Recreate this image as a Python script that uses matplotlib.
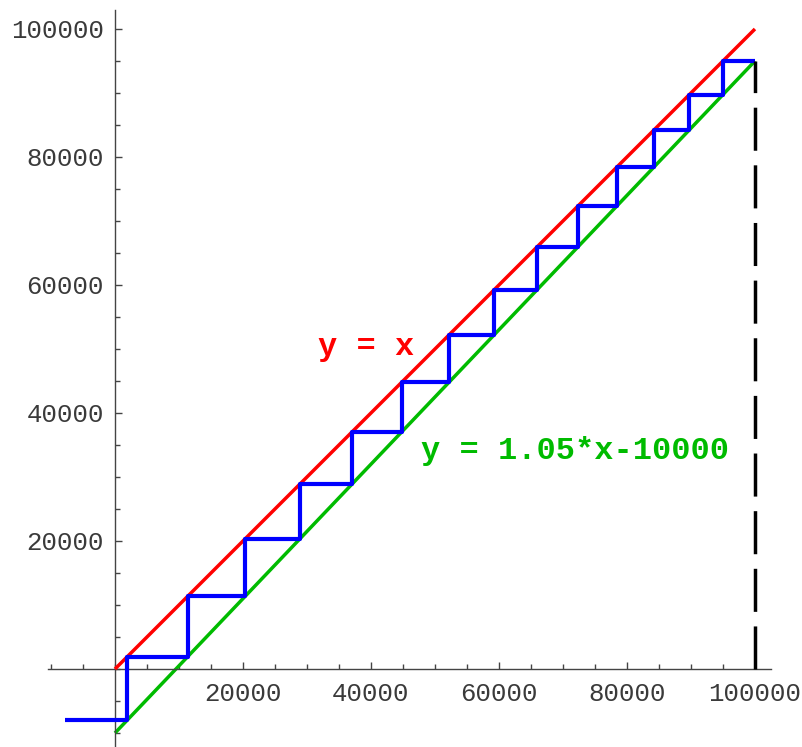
import matplotlib
matplotlib.use("Agg")
import matplotlib.pyplot as plt
from matplotlib.ticker import MultipleLocator, FixedLocator

# ---- data ----
red_x = [0, 100000]
red_y = [0, 100000]
green_x = [0, 100000]
green_y = [-10000, 95000]
# successive staircase levels
steps = [-8000, 1900, 11340, 20320, 28880, 37030, 44790, 52180, 59220,
         65920, 72310, 78390, 84180, 89690, 94950, 99950]
stair_start_x = -7800
dash_x = [100000, 100000]
dash_y = [0, 95000]
xticks_major = [20000, 40000, 60000, 80000, 100000]
yticks_major = [20000, 40000, 60000, 80000, 100000]
xtick_labels = ["20000", "40000", "60000", "80000", "100000"]
ytick_labels = ["20000", "40000", "60000", "80000", "100000"]

# staircase path built from the levels
sx = [stair_start_x]
sy = [steps[0]]
for i in range(len(steps) - 1):
    sx.append(steps[i + 1]); sy.append(steps[i])
    if i + 1 < len(steps) - 1:
        sx.append(steps[i + 1]); sy.append(steps[i + 1])

fig = plt.figure(figsize=(8.03, 7.47), dpi=100)
ax = fig.add_axes([0.0595, 0.0016, 0.9006, 0.9853])
ax.set_xlim(-10500, 102500)
ax.set_ylim(-12000, 103000)

ax.plot(green_x, green_y, color="#00bb00", lw=2.5, solid_capstyle="butt", zorder=2)
ax.plot(red_x, red_y, color="#ff0000", lw=2.5, solid_capstyle="butt", zorder=3)
ax.plot(sx, sy, color="#0000ff", lw=3.0, solid_capstyle="butt", zorder=4)
lw_d = 2.5
ax.plot(dash_x, dash_y, color="black", lw=lw_d, dashes=(31 / lw_d, 10.5 / lw_d),
        solid_capstyle="butt", dash_capstyle="butt", zorder=5)

ax.text(39300, 50300, "y = x", color="#ff0000", fontsize=23, fontweight="bold",
        family="Liberation Mono", ha="center", va="center")
ax.text(71900, 34000, "y = 1.05*x-10000", color="#00bb00", fontsize=23,
        fontweight="bold", family="Liberation Mono", ha="center", va="center")

for s in ["top", "right"]:
    ax.spines[s].set_visible(False)
ax.spines["left"].set_position(("data", 0))
ax.spines["bottom"].set_position(("data", 0))
for s in ["left", "bottom"]:
    ax.spines[s].set_color("#444444")
    ax.spines[s].set_linewidth(1.0)

ax.xaxis.set_major_locator(FixedLocator(xticks_major))
ax.yaxis.set_major_locator(FixedLocator(yticks_major))
ax.set_xticklabels(xtick_labels)
ax.set_yticklabels(ytick_labels)
ax.xaxis.set_minor_locator(MultipleLocator(5000))
ax.yaxis.set_minor_locator(MultipleLocator(5000))
ax.tick_params(which="both", direction="in", color="#444444", width=1.0)
ax.tick_params(which="major", length=5, labelsize=18.5, labelcolor="#3a3a3a")
ax.tick_params(which="minor", length=3.5)
ax.tick_params(axis="x", which="major", pad=9)
ax.tick_params(axis="y", which="major", pad=8)
for lab in ax.get_xticklabels() + ax.get_yticklabels():
    lab.set_family("Liberation Mono")

fig.savefig("out.png", dpi=100)
